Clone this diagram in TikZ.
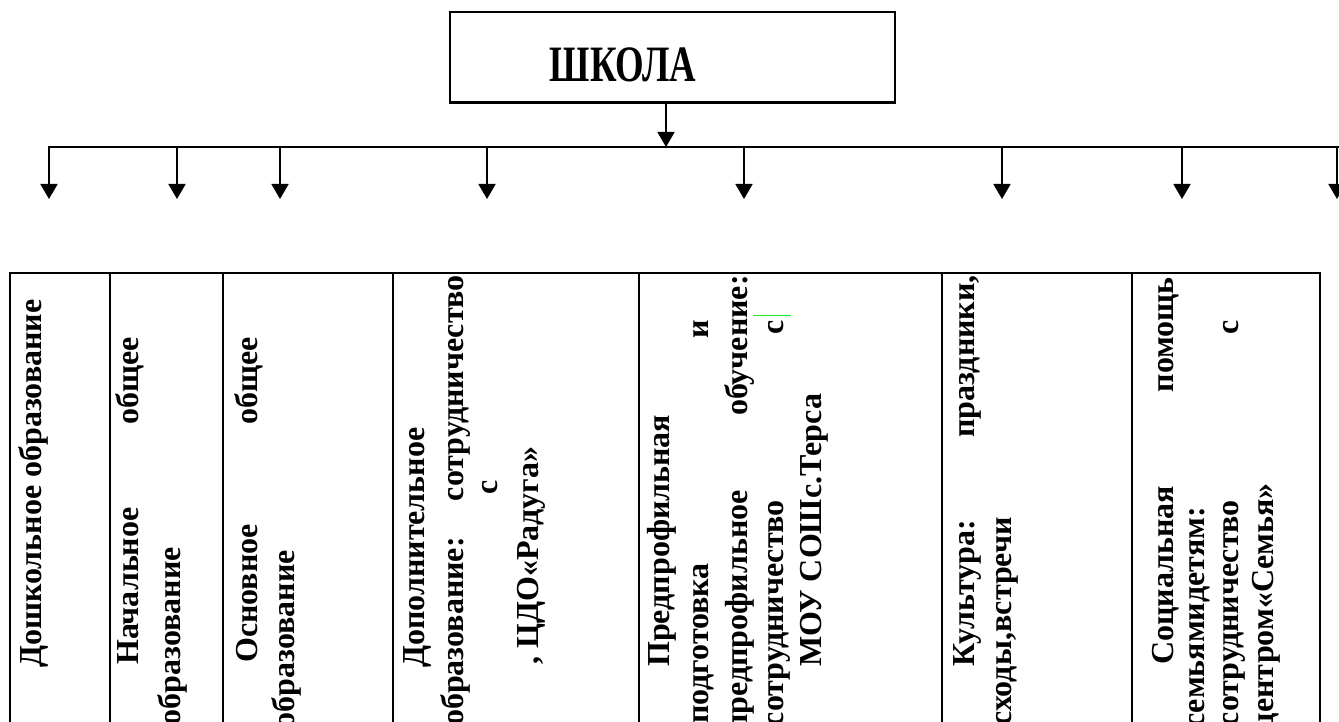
\documentclass[tikz,border=0pt]{standalone}
\usepackage{fontspec}
\setmainfont{Liberation Serif}
\usetikzlibrary{arrows.meta,calc}
\definecolor{markgreen}{RGB}{30,230,30}
\begin{document}
\begin{tikzpicture}[x=1pt,y=-1pt,
  cellw/.style={rotate=90, inner sep=0pt, font=\fontsize{32}{38}\selectfont\bfseries},
  ws/.style={cellw, anchor=base west},
  we/.style={cellw, anchor=base east},
  rule/.style={line width=1.5pt},
  bar/.style={line width=1.8pt},
  arr/.style={line width=1.8pt, -{Triangle[length=15pt,width=17pt]}}]
\useasboundingbox (0,0) rectangle (1339,722);
\fill[white] (0,0) rectangle (1339,722);

% top box
\node[draw, line width=1.8pt, minimum width=445pt, minimum height=90pt, inner sep=0pt] (school) at (672.5,57) {};
\draw[line width=3pt] (school.south west) -- (school.south east);
\node[anchor=base, inner sep=0pt, font=\fontsize{51}{56}\selectfont\bfseries] (schooltxt) at (623,82) {\scalebox{0.72}[1]{ШКОЛА}};

% trunk
\coordinate (hl) at (48,147);
\coordinate (hr) at (1339,147);
\coordinate (hm) at (666,147);
\draw[arr] ($(school.south)+(-6.5,0)$) -- (hm);
\draw[bar] (hl) -- (hr);
\foreach \i/\x in {1/49,2/177,3/280,4/487,5/744,6/1002,7/1182,8/1337}{
  \coordinate (t\i) at (\x,147);
  \coordinate (b\i) at (\x,199);
  \draw[arr] (t\i) -- (b\i);
}

% table
\draw[rule] (10,722) -- (10,273) -- (1320,273) -- (1320,722);
\foreach \x in {110,223,393,639,942,1132}{
  \draw[rule] (\x,273) -- (\x,722);
}
\draw[markgreen, line width=1pt] (753,315) -- (791,315);

% cell 1
\node[ws] (c1a) at (41,668) {Дошкольное образование};
% cell 2
\node[ws] (c2a) at (138,665) {Начальное};
\node[we] (c2b) at (138,337) {общее};
\node[we] (c2c) at (180,547) {образование};
% cell 3
\node[ws] (c3a) at (257,663) {Основное};
\node[we] (c3b) at (257,337) {общее};
\node[we] (c3c) at (294,550) {образование};
% cell 4
\node[ws] (c4a) at (424,668) {Дополнительное};
\node[we] (c4b) at (463,537) {образование:};
\node[we] (c4c) at (463,275) {сотрудничество};
\node[we] (c4d) at (497,480) {с};
\node[ws] (c4e) at (538,665) {, ЦДО«Радуга»};
% cell 5
\node[ws] (c5a) at (669,667) {Предпрофильная};
\node[we] (c5b) at (708,563) {подготовка};
\node[we] (c5c) at (708,320) {и};
\node[we] (c5d) at (747,490) {предпрофильное};
\node[we] (c5e) at (747,275) {обучение:};
\node[we] (c5f) at (783,500) {сотрудничество};
\node[we] (c5g) at (783,320) {с};
\node[ws] (c5h) at (821,667) {МОУ СОШс.Терса};
% cell 6
\node[ws] (c6a) at (974,667) {Культура:};
\node[we] (c6b) at (974,275) {праздники,};
\node[we] (c6c) at (1011,517) {сходы,встречи};
% cell 7
\node[ws] (c7a) at (1173,665) {Социальная};
\node[we] (c7b) at (1173,277) {помощь};
\node[we] (c7c) at (1204,507) {семьямидетям:};
\node[we] (c7d) at (1238,500) {сотрудничество};
\node[we] (c7e) at (1238,320) {с};
\node[we] (c7f) at (1273,483) {центром«Семья»};
\end{tikzpicture}
\end{document}
